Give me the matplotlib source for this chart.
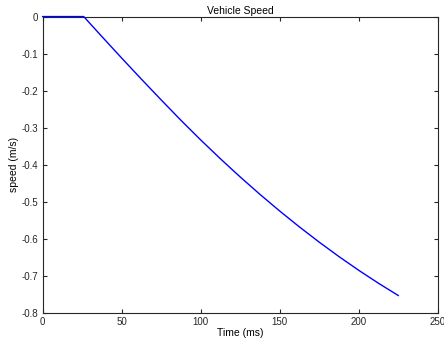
import matplotlib
matplotlib.use("Agg")
import matplotlib.pyplot as plt

# speed trace
time_ms = [0, 26, 37.5, 50, 62.5, 75, 87.5, 100, 112.5, 125, 137.5,
           150, 162.5, 175, 187.5, 200, 212.5, 225]
speed = [0, 0, -0.054, -0.112, -0.169, -0.225, -0.280, -0.333, -0.384,
         -0.433, -0.480, -0.525, -0.568, -0.609, -0.648, -0.685, -0.720, -0.753]

xticks = [0, 50, 100, 150, 200, 250]
yticks = [-0.8, -0.7, -0.6, -0.5, -0.4, -0.3, -0.2, -0.1, 0]

plt.rcParams['font.family'] = ['Liberation Sans', 'DejaVu Sans']
plt.rcParams['axes.unicode_minus'] = False

fig = plt.figure(figsize=(4.44, 3.45), dpi=100)
ax = fig.add_axes([0.096, 0.093, 0.89, 0.859])
ax.plot(time_ms, speed, color='#0000ff', linewidth=1.0, clip_on=False, zorder=5)

ax.set_xlim(0, 250)
ax.set_ylim(-0.8, 0)
ax.set_xticks(xticks)
ax.set_yticks(yticks)
ax.set_yticklabels(['-0.8', '-0.7', '-0.6', '-0.5', '-0.4', '-0.3', '-0.2', '-0.1', '0'])
ax.tick_params(direction='in', length=3, width=0.8, labelsize=7,
               colors='#262626', top=True, right=True, pad=3)
for s in ax.spines.values():
    s.set_color('#262626')
    s.set_linewidth(0.8)

ax.set_title("Vehicle Speed", fontsize=7.5, pad=2)
ax.set_xlabel("Time (ms)", fontsize=7.5, labelpad=1)
ax.set_ylabel("speed (m/s)", fontsize=7.5, labelpad=2)

fig.savefig("out.png", dpi=100)
